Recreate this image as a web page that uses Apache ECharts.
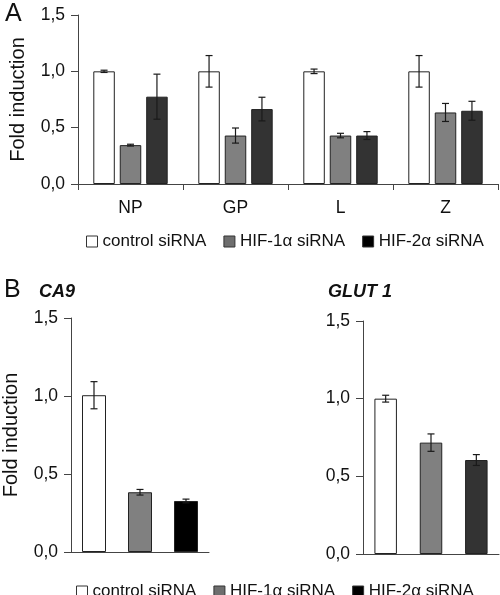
<!DOCTYPE html>
<html><head><meta charset="utf-8">
<script src="https://cdn.jsdelivr.net/npm/echarts@6/dist/echarts.min.js"></script>
<style>html,body{margin:0;padding:0;background:#fff}#c{width:500px;height:595px}</style>
</head><body><div id="c"></div>
<script>
// ---- data ----
const categoriesA = ['NP', 'GP', 'L', 'Z'];
const seriesNames = ['control siRNA', 'HIF-1α siRNA', 'HIF-2α siRNA'];
const controlA = [1.0, 1.0, 1.0, 1.0];
const controlErrA = [0.01, 0.14, 0.02, 0.14];
const hif1A = [0.345, 0.43, 0.43, 0.635];
const hif1ErrA = [0.008, 0.067, 0.02, 0.08];
const hif2A = [0.775, 0.665, 0.43, 0.65];
const hif2ErrA = [0.2, 0.105, 0.035, 0.084];
const ca9Values = [1.005, 0.383, 0.327];
const ca9Err = [0.087, 0.018, 0.012];
const glutValues = [1.0, 0.717, 0.605];
const glutErr = [0.022, 0.056, 0.035];
const yTickValues = [0, 0.5, 1.0, 1.5];

// ---- styles ----
const FONT = 'Liberation Sans, Arial, sans-serif';
const colorsA = ['#ffffff', '#808080', '#333333'];
const colorsCA9 = ['#ffffff', '#808080', '#000000'];
const colorsGLUT = ['#ffffff', '#808080', '#333333'];
const legendColors = ['#ffffff', '#6e6e6e', '#000000'];
const barWA = 21.5, gapA = 0.23;
const barWB1 = 24, barWB2 = 22.5;
const axisColor = '#444';
const fmt = v => v.toFixed(1).replace('.', ',');

const chart = echarts.init(document.getElementById('c'), null, {renderer: 'canvas'});

function yAxis(gridIndex, withName) {
  return {
    type: 'value', gridIndex, min: yTickValues[0], max: yTickValues[yTickValues.length - 1], interval: 0.5,
    splitLine: {show: false},
    axisLine: {show: true, lineStyle: {color: axisColor, width: 1}},
    axisTick: {show: true, length: 7, lineStyle: {color: axisColor}},
    axisLabel: {formatter: fmt, fontFamily: FONT, fontSize: 17.5, color: '#111', margin: 13},
    name: withName ? 'Fold induction' : '',
    nameLocation: 'middle', nameGap: 50, nameRotate: 90,
    nameTextStyle: {fontFamily: FONT, fontSize: 20, color: '#111'}
  };
}

function errSeries(xi, yi, vals, errs, offsetPx) {
  return {
    type: 'custom', xAxisIndex: xi, yAxisIndex: yi, z: 10, silent: true,
    data: vals.map((v, i) => [i, v, errs[i]]),
    encode: {x: 0, y: 1},
    renderItem: function (params, api) {
      const i = api.value(0), v = api.value(1), e = api.value(2);
      const top = api.coord([i, v + e]);
      const bot = api.coord([i, v - e]);
      const x = top[0] + offsetPx;
      const cap = 3.5;
      const st = {stroke: '#1a1a1a', lineWidth: 1.2};
      return {type: 'group', children: [
        {type: 'line', shape: {x1: x, y1: top[1], x2: x, y2: bot[1]}, style: st},
        {type: 'line', shape: {x1: x - cap, y1: top[1], x2: x + cap, y2: top[1]}, style: st},
        {type: 'line', shape: {x1: x - cap, y1: bot[1], x2: x + cap, y2: bot[1]}, style: st}
      ]};
    }
  };
}

const valsA = [controlA, hif1A, hif2A];
const errsA = [controlErrA, hif1ErrA, hif2ErrA];
const stepA = barWA * (1 + gapA);

const series = [];
valsA.forEach((vals, s) => {
  series.push({
    name: seriesNames[s], type: 'bar', xAxisIndex: 0, yAxisIndex: 0,
    data: vals, barWidth: barWA, barGap: (gapA * 100) + '%',
    itemStyle: {color: colorsA[s], borderColor: '#222', borderWidth: 1}
  });
});
valsA.forEach((vals, s) => {
  series.push(errSeries(0, 0, vals, errsA[s], (s - 1) * stepA));
});
series.push({
  type: 'bar', xAxisIndex: 1, yAxisIndex: 1, barWidth: barWB1,
  data: ca9Values.map((v, i) => ({value: v, itemStyle: {color: colorsCA9[i]}})),
  itemStyle: {borderColor: '#222', borderWidth: 1}
});
series.push(errSeries(1, 1, ca9Values, ca9Err, 0));
series.push({
  type: 'bar', xAxisIndex: 2, yAxisIndex: 2, barWidth: barWB2,
  data: glutValues.map((v, i) => ({value: v, itemStyle: {color: colorsGLUT[i]}})),
  itemStyle: {borderColor: '#222', borderWidth: 1}
});
series.push(errSeries(2, 2, glutValues, glutErr, 0));

const legendData = seriesNames.map((n, i) => ({name: n, itemStyle: {color: legendColors[i], borderColor: '#333', borderWidth: 1}}));
const legendBase = {
  orient: 'horizontal', icon: 'rect', itemWidth: 11, itemHeight: 11, itemGap: 17,
  textStyle: {fontFamily: FONT, fontSize: 17, color: '#111'},
  selectedMode: false, data: legendData
};

const option = {
  animation: false,
  backgroundColor: '#fff',
  title: [
    {text: 'A', left: 0, top: -3, textStyle: {fontFamily: FONT, fontSize: 25, fontWeight: 'normal', color: '#111'}},
    {text: 'B', left: -1, top: 273, textStyle: {fontFamily: FONT, fontSize: 25, fontWeight: 'normal', color: '#111'}},
    {text: 'CA9', left: 34, top: 278, textStyle: {fontFamily: FONT, fontSize: 18, fontWeight: 'bold', fontStyle: 'italic', color: '#111'}},
    {text: 'GLUT 1', left: 323, top: 278, textStyle: {fontFamily: FONT, fontSize: 18, fontWeight: 'bold', fontStyle: 'italic', color: '#111'}}
  ],
  legend: [
    Object.assign({left: 81, top: 228}, legendBase),
    Object.assign({left: 71, top: 578}, legendBase)
  ],
  grid: [
    {left: 69, top: 15, width: 429, height: 169},
    {left: 71, top: 318, width: 138, height: 234},
    {left: 363, top: 321, width: 136, height: 233}
  ],
  xAxis: [
    {type: 'category', gridIndex: 0, data: categoriesA,
     axisLine: {lineStyle: {color: axisColor}},
     axisTick: {show: true, length: 6, lineStyle: {color: axisColor}},
     axisLabel: {fontFamily: FONT, fontSize: 17.5, color: '#111', margin: 15}},
    {type: 'category', gridIndex: 1, data: seriesNames,
     axisLine: {lineStyle: {color: axisColor}}, axisTick: {show: false}, axisLabel: {show: false}},
    {type: 'category', gridIndex: 2, data: seriesNames,
     axisLine: {lineStyle: {color: axisColor}}, axisTick: {show: false}, axisLabel: {show: false}}
  ],
  yAxis: [yAxis(0, true), yAxis(1, true), yAxis(2, false)],
  series: series
};
chart.setOption(option);
</script>
</body></html>
